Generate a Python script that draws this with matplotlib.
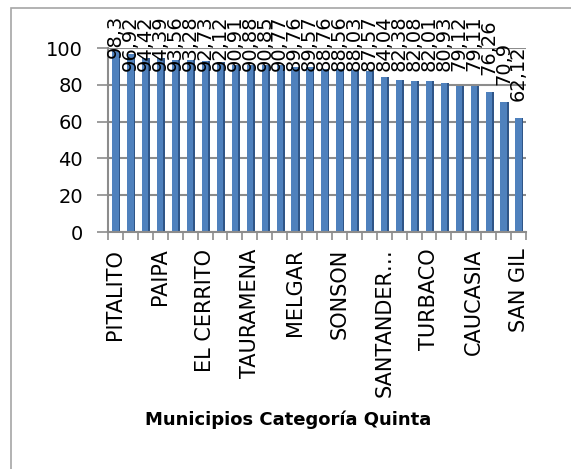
import matplotlib
matplotlib.use("Agg")
import matplotlib.pyplot as plt
from matplotlib.patches import Rectangle
import numpy as np

# values per municipality
values = [98.3, 96.92, 94.42, 94.39, 93.56, 93.28, 92.73, 92.12, 90.91, 90.88,
          90.85, 90.77, 89.76, 89.57, 88.76, 88.56, 88.03, 87.57, 84.04, 82.38,
          82.08, 82.01, 80.93, 79.12, 79.11, 76.26, 70.9, 62.12]
# only every third category name is shown on the axis
shown_idx = [0, 3, 6, 9, 12, 15, 18, 21, 24, 27]
shown_names = ["PITALITO", "PAIPA", "EL CERRITO", "TAURAMENA", "MELGAR",
               "SONSON", "SANTANDER…", "TURBACO", "CAUCASIA", "SAN GIL"]
y_ticks = [0, 20, 40, 60, 80, 100]
x_title = "Municipios Categoría Quinta"

plt.rcParams['font.family'] = ['DejaVu Sans']

W, H = 571, 469
fig = plt.figure(figsize=(W / 100, H / 100), dpi=100)

# chart frame
fig.patches.append(Rectangle((11 / W, -0.1), 1.2, 1 - 8 / H + 0.1,
                             transform=fig.transFigure, fill=False,
                             edgecolor='#a6a6a6', linewidth=1.2))

ax = fig.add_axes([108 / W, 1 - 232 / H, 418 / W, 184 / H])
x = np.arange(len(values))
grid_col = '#8c8c8c'

for t in y_ticks:
    ax.axhline(t, color=grid_col, linewidth=1.5, zorder=0)

ax.bar(x, values, width=0.42, color='#4f81bd', zorder=2)
ax.bar(x + 0.27, values, width=0.12, color='#2f5587', zorder=2)

labels = []
for xi, v in zip(x, values):
    t = ax.annotate(str(v).replace('.', ','), (xi, v), xytext=(0, 12),
                    textcoords='offset points', rotation=90, ha='center',
                    va='bottom', fontsize=14, annotation_clip=False, zorder=3)
    labels.append(t)

ax.set_xlim(-0.5, len(values) - 0.5)
ax.set_ylim(0, 100)
ax.set_yticks(y_ticks)
ax.set_yticklabels([str(t) for t in y_ticks], fontsize=14)
ax.tick_params(axis='y', length=8, width=1.2, color=grid_col, pad=10)

ax.set_xticks(shown_idx)
ax.set_xticklabels(shown_names, rotation=90, fontsize=15, va='top')
ax.set_xticks(np.arange(-0.5, len(values)), minor=True)
ax.tick_params(axis='x', which='major', length=0, pad=12)
ax.tick_params(axis='x', which='minor', length=6, width=1.2, color=grid_col)

for s in ['top', 'right']:
    ax.spines[s].set_visible(False)
for s in ['left', 'bottom']:
    ax.spines[s].set_color(grid_col)
    ax.spines[s].set_linewidth(1.5)

fig.text(288 / W, 1 - 420 / H, x_title, ha='center', va='center',
         fontsize=13, fontweight='bold')

# labels that would run past the top of the chart are pushed down
fig.canvas.draw()
r = fig.canvas.get_renderer()
top_limit = H - 15
for t in labels:
    bb = t.get_window_extent(r)
    if bb.y1 > top_limit:
        dy = (bb.y1 - top_limit) * 72 / 100
        ox, oy = t.xyann
        t.xyann = (ox, oy - dy)

fig.savefig("out.png", dpi=100)
